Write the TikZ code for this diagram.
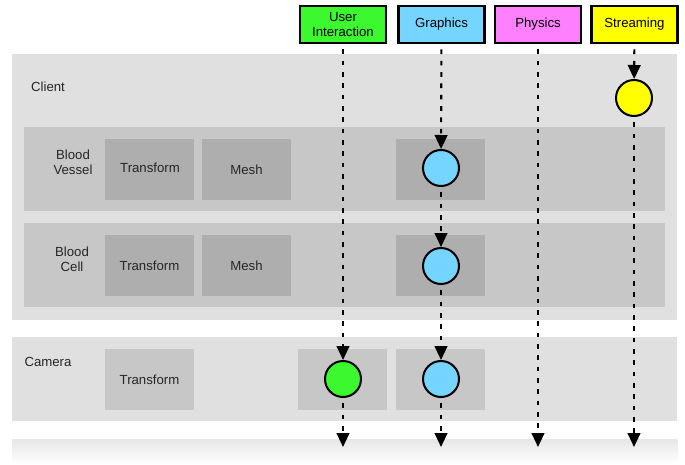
\documentclass[tikz,border=0pt]{standalone}
\usepackage{fontspec}
\setmainfont{Liberation Sans}
\usepackage{tikz}
\usetikzlibrary{arrows.meta, positioning, calc}
\definecolor{uicol}{HTML}{3CF82E}
\definecolor{gfxcol}{HTML}{76D5FF}
\definecolor{physcol}{HTML}{FF80FF}
\definecolor{streamcol}{HTML}{FFFF00}
\definecolor{bandlight}{HTML}{E0E0E0}
\definecolor{bandmid}{HTML}{C7C7C7}
\definecolor{banddark}{HTML}{AEAEAE}

\begin{document}
\begin{tikzpicture}[
    x=0.75pt, y=-0.75pt,
    font=\fontsize{9.9}{11.4}\selectfont,
    band/.style={anchor=north west, inner sep=0, minimum width=498.75pt, minimum height=63pt, fill=bandlight},
    subband/.style={anchor=north west, inner sep=0, minimum width=480.75pt, minimum height=63pt, fill=bandmid},
    comp/.style={inner sep=0, minimum width=66.75pt, minimum height=45.75pt, fill=banddark, text=black!85, align=center},
    hdr/.style={draw, line width=1.7pt, inner sep=0, minimum width=64.5pt, minimum height=27.75pt,
                align=center, font=\fontsize{9.9}{10.8}\selectfont},
    evt/.style={circle, draw, line width=1.5pt, inner sep=0, minimum size=27pt},
    lbl/.style={text=black!85, align=center},
    flow/.style={-{Triangle[length=10.5pt, width=9.5pt]}, line width=1.6pt, dash pattern=on 3.5pt off 5pt,
                 shorten <=4pt},
]
    \useasboundingbox (0,0) rectangle (685,464);

    % layers
    \node[band, minimum height=199.5pt] (client) at (12,54) {};
    \node[subband] (vessel) at (24,127) {};
    \node[subband] (cell) at (24,223) {};
    \node[band] (camera) at (12,337) {};
    \node[band, minimum height=18.75pt, fill=none, top color=bandlight!80, bottom color=white] (next) at (12,439) {};

    \node[lbl] (clientlbl) at (48,87) {Client};
    \node[lbl] (vessellbl) at (73,162) {Blood\\Vessel};
    \node[lbl] (celllbl) at (72,259) {Blood\\Cell};
    \node[lbl] (cameralbl) at (48,362) {Camera};

    % components
    \node[comp] (vtrans) at (149.5,169.5) {};
    \node[lbl] (vtranslbl) at (150,167.5) {Transform};
    \node[comp] (vmesh) at (246.5,169.5) {Mesh};
    \node[comp] (vgfx) at (440.5,169.5) {};
    \node[comp] (ctrans) at (149.5,265.5) {Transform};
    \node[comp] (cmesh) at (246.5,265.5) {Mesh};
    \node[comp] (cgfx) at (440.5,265.5) {};
    \node[comp, fill=bandmid] (camtrans) at (149.5,379.5) {Transform};
    \node[comp, fill=bandmid] (camui) at (342.5,379.5) {};
    \node[comp, fill=bandmid] (camgfx) at (440.5,379.5) {};

    % systems
    \node[hdr, fill=uicol] (ui) at (343,24.5) {User\\Interaction};
    \node[hdr, fill=gfxcol] (gfx) at (441.5,24.5) {Graphics};
    \node[hdr, fill=physcol] (phys) at (538,24.5) {Physics};
    \node[hdr, fill=streamcol] (stream) at (634.5,24.5) {Streaming};

    % events
    \node[evt, fill=streamcol] (streamclient) at (634,98) {};
    \node[evt, fill=gfxcol] (gfxvessel) at (441,168) {};
    \node[evt, fill=gfxcol] (gfxcell) at (441,266) {};
    \node[evt, fill=gfxcol] (gfxcamera) at (441,379) {};
    \node[evt, fill=uicol] (uicamera) at (343,379) {};

    \coordinate (uiend) at (343,447);
    \coordinate (gfxend) at (441,447);
    \coordinate (physend) at (538,447);
    \coordinate (streamend) at (634,447);

    \draw[flow] (ui) -- (uicamera);
    \draw[flow] (uicamera) -- (uiend);
    \draw[flow] (gfx) -- (gfxvessel);
    \draw[flow] (gfxvessel) -- (gfxcell);
    \draw[flow] (gfxcell) -- (gfxcamera);
    \draw[flow] (gfxcamera) -- (gfxend);
    \draw[flow] (phys) -- (physend);
    \draw[flow] (stream) -- (streamclient);
    \draw[flow] (streamclient) -- (streamend);
\end{tikzpicture}
\end{document}
